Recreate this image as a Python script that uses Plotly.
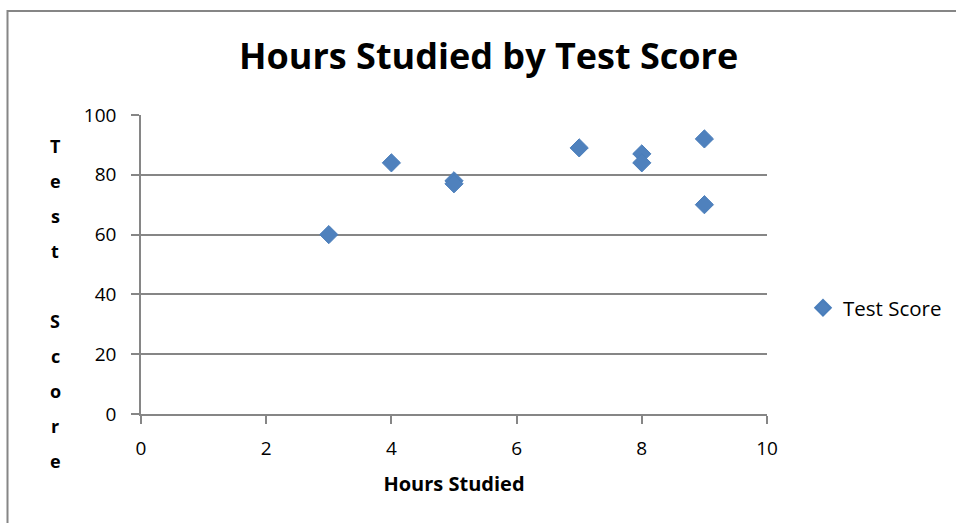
import plotly.graph_objects as go

hours = [3, 4, 5, 5, 7, 8, 8, 9, 9]
scores = [60, 84, 78, 77, 89, 87, 84, 92, 70]
series_name = "Test Score"
chart_title = "Hours Studied by Test Score"
x_title = "Hours Studied"
y_title = "Test Score"

W, H = 956, 523
L, R, T, B = 141, 189, 115, 109
FONT = "Open Sans"
GRAY = "#868686"

fig = go.Figure()
fig.add_trace(go.Scatter(
    x=hours, y=scores, mode="markers", name=series_name,
    marker=dict(symbol="diamond", size=14, color="#4F81BD",
                line=dict(color="#4A7EBB", width=1)),
))

def py(p):
    return (H - B - p) / (H - T - B)

def px(p):
    return (p - L) / (W - L - R)

annotations = [dict(
    text=f"<b>{chart_title}</b>", x=px(488), y=py(56), xref="paper", yref="paper",
    showarrow=False, font=dict(family=FONT, size=36, color="black"),
    xanchor="center", yanchor="middle")]

# vertical stacked y-axis title
y0, step = 146, 35
for i, ch in enumerate(y_title):
    if ch == " ":
        continue
    annotations.append(dict(
        text=f"<b>{ch}</b>", x=px(55), y=py(y0 + i * step), xref="paper", yref="paper",
        showarrow=False, font=dict(family=FONT, size=18, color="black"),
        xanchor="center", yanchor="middle"))

fig.update_layout(
    width=W, height=H,
    margin=dict(l=L, r=R, t=T, b=B, pad=0, autoexpand=False),
    paper_bgcolor="white", plot_bgcolor="white",
    font=dict(family=FONT, size=19, color="black"),
    showlegend=True,
    legend=dict(x=px(803), y=py(308), xanchor="left", yanchor="middle",
                font=dict(family=FONT, size=20.5, color="black"),
                itemsizing="constant", bgcolor="rgba(0,0,0,0)"),
    xaxis=dict(range=[0, 10], tickvals=[0, 2, 4, 6, 8, 10], showgrid=False,
               showline=True, linecolor=GRAY, linewidth=1.5,
               ticks="outside", ticklen=8, tickcolor=GRAY, tickwidth=1.5,
               zeroline=False, tickfont=dict(size=19), ticklabelstandoff=8,
               title=dict(text=f"<b>{x_title}</b>", font=dict(size=20), standoff=17)),
    yaxis=dict(range=[0, 100], tickvals=[0, 20, 40, 60, 80, 100], showgrid=True,
               gridcolor=GRAY, gridwidth=1.5,
               showline=True, linecolor=GRAY, linewidth=1.5,
               ticks="outside", ticklen=8, tickcolor=GRAY, tickwidth=1.5,
               zeroline=False, tickfont=dict(size=19), ticklabelstandoff=11),
    annotations=annotations,
    shapes=[dict(type="rect", xref="paper", yref="paper",
                 x0=px(7.5), y0=py(700), x1=px(1100), y1=py(11),
                 line=dict(color=GRAY, width=2), fillcolor="rgba(0,0,0,0)", layer="below")],
)

fig.write_html("out.html", config={"displayModeBar": False},
               post_script="document.body.style.margin='0';document.body.style.overflow='hidden';")
